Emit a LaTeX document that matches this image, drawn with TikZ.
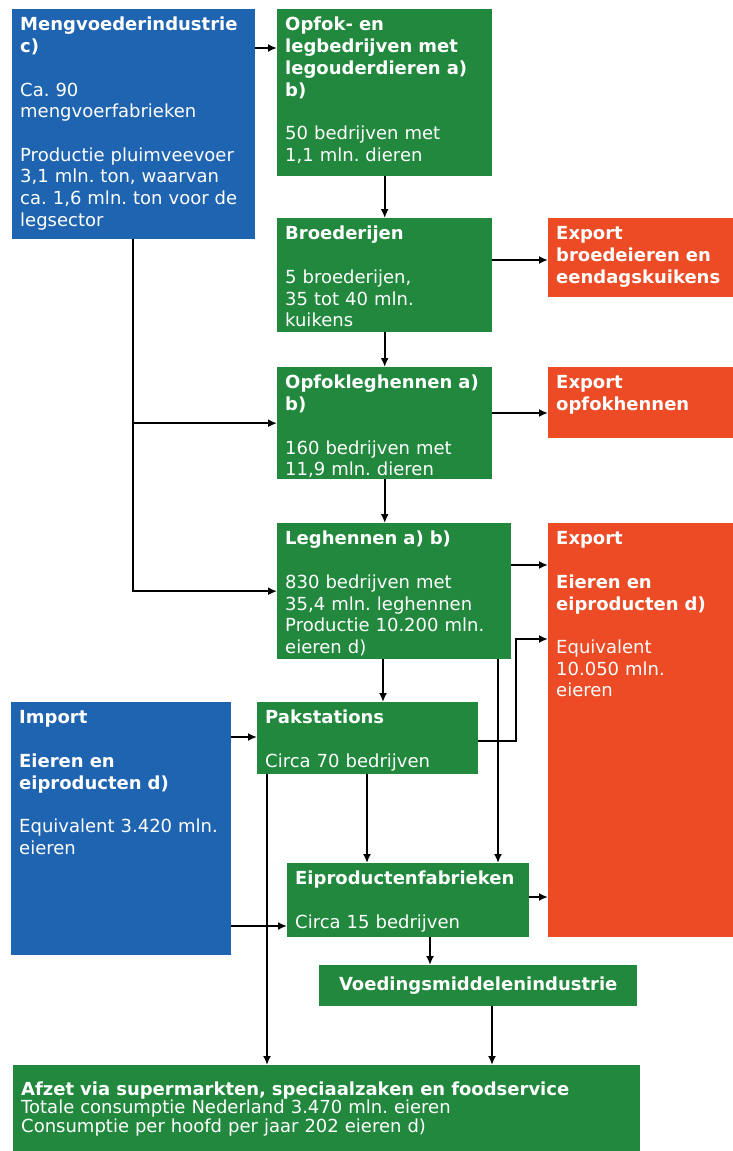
\documentclass[tikz,border=0pt]{standalone}
\usepackage{fontspec}
\setmainfont{DejaVu Sans}
\usepackage{tikz}
\usetikzlibrary{arrows.meta}

\definecolor{mengblue}{HTML}{1F64B1}
\definecolor{ketengreen}{HTML}{21883D}
\definecolor{exportred}{HTML}{EC4B25}

\frenchspacing

\begin{document}
\begin{tikzpicture}[
  x=1pt, y=-1pt,
  >={Latex[length=9pt,width=8pt]},
  flow/.style={->, line width=1.9pt},
  every node/.style={anchor=north west, inner xsep=8pt, inner ysep=8pt, align=left,
    text=white, text height=13.7pt, font=\fontsize{18}{21.7}\selectfont},
  bluebox/.style={fill=mengblue},
  greenbox/.style={fill=ketengreen},
  redbox/.style={fill=exportred, text width=174pt}
]
  \useasboundingbox (0,0) rectangle (732,1151);

  % linker kolom
  \node[bluebox, text width=227pt, text depth=200.3pt] (meng) at (12,9)
    {\bfseries Mengvoederindustrie\\c)\\[21.7pt]\mdseries Ca. 90\\mengvoerfabrieken\\[21.7pt]Productie pluimveevoer\\3,1 mln. ton, waarvan\\ca. 1,6 mln. ton voor de\\legsector};
  \node[bluebox, text width=204pt, text depth=223.3pt] (import) at (11,702)
    {\bfseries Import\\[21.7pt]Eieren en\\eiproducten d)\\[21.7pt]\mdseries Equivalent 3.420 mln.\\eieren};

  % keten
  \node[greenbox, text width=199pt, text depth=137.3pt] (opfok) at (277,9)
    {\bfseries Opfok- en\\legbedrijven met\\legouderdieren a)\\b)\\[21.7pt]\mdseries 50 bedrijven met\\1,1 mln. dieren};
  \node[greenbox, text width=199pt, text depth=84.3pt] (broed) at (277,218)
    {\bfseries Broederijen\\[21.7pt]\mdseries 5 broederijen,\\35 tot 40 mln.\\kuikens};
  \node[greenbox, text width=199pt, text depth=82.3pt] (opfokleg) at (277,367)
    {\bfseries Opfokleghennen a)\\b)\\[21.7pt]\mdseries 160 bedrijven met\\11,9 mln. dieren};
  \node[greenbox, text width=218pt, text depth=106.3pt] (leg) at (277,523)
    {\bfseries Leghennen a) b)\\[21.7pt]\mdseries 830 bedrijven met\\35,4 mln. leghennen\\Productie 10.200 mln.\\eieren d)};
  \node[greenbox, text width=205pt, text depth=42.3pt] (pak) at (257,702)
    {\bfseries Pakstations\\[21.7pt]\mdseries Circa 70 bedrijven};
  \node[greenbox, text width=226pt, text depth=44.3pt] (eipr) at (287,863)
    {\bfseries Eiproductenfabrieken\\[21.7pt]\mdseries Circa 15 bedrijven};
  \node[greenbox, text width=302pt, align=center, inner ysep=11.5pt, text depth=4.3pt] (voed) at (319,965)
    {\bfseries Voedingsmiddelenindustrie};
  \node[greenbox, text width=611pt, inner ysep=16.3pt, text depth=44pt,
    font=\fontsize{18}{18.7}\selectfont] (afzet) at (13,1065)
    {\bfseries Afzet via supermarkten, speciaalzaken en foodservice\\\mdseries Totale consumptie Nederland 3.470 mln. eieren\\Consumptie per hoofd per jaar 202 eieren d)};

  % export
  \node[redbox, text depth=49.3pt] (expbroed) at (548,218)
    {\bfseries Export\\broedeieren en\\eendagskuikens};
  \node[redbox, text depth=41.3pt] (expopfok) at (548,367)
    {\bfseries Export\\opfokhennen};
  \node[redbox, text depth=384.3pt] (expeier) at (548,523)
    {\bfseries Export\\[21.7pt]Eieren en\\eiproducten d)\\[21.7pt]\mdseries Equivalent\\10.050 mln.\\eieren};

  % pijlen
  \draw[flow] ([yshift=-39pt]meng.north east) -- ([yshift=-39pt]opfok.north west);
  \coordinate (trunk) at ([xshift=121pt]meng.south west);
  \draw[flow] (trunk) |- (opfokleg.west);
  \draw[flow] (trunk) |- (leg.west);

  \draw[flow] (opfok) -- (broed);
  \draw[flow] (broed) -- (opfokleg);
  \draw[flow] (opfokleg.south) -- (opfokleg.south |- leg.north);
  \draw[flow] ([yshift=-42pt]broed.north east) -- ([yshift=-42pt]expbroed.north west);
  \draw[flow] ([yshift=-46pt]opfokleg.north east) -- ([yshift=-46pt]expopfok.north west);
  \draw[flow] ([yshift=-42pt]leg.north east) -- ([yshift=-42pt]expeier.north west);

  \coordinate (legpak) at ([xshift=106pt]leg.south west);
  \draw[flow] (legpak) -- (legpak |- pak.north);
  \coordinate (legeipr) at ([xshift=221pt]leg.south west);
  \draw[flow] (legeipr) -- (legeipr |- eipr.north);
  \coordinate (pakexp) at ([yshift=-116pt]expeier.north west);
  \draw[flow] ([yshift=-39pt]pak.north east) -| ([xshift=-32pt]pakexp) -- (pakexp);

  \draw[flow] ([yshift=-35pt]import.north east) -- ([yshift=-35pt]pak.north west);
  \draw[flow] ([yshift=-224pt]import.north east) -- ([yshift=-63pt]eipr.north west);

  \coordinate (pakeipr) at ([xshift=110pt]pak.south west);
  \draw[flow] (pakeipr) -- (pakeipr |- eipr.north);
  \coordinate (pakafzet) at ([xshift=10pt]pak.south west);
  \draw[flow] (pakafzet) -- (pakafzet |- afzet.north);

  \coordinate (eiprexp) at ([yshift=-34pt]eipr.north east);
  \draw[flow] (eiprexp) -- (eiprexp -| expeier.west);
  \coordinate (eiprvoed) at ([xshift=143pt]eipr.south west);
  \draw[flow] (eiprvoed) -- (eiprvoed |- voed.north);
  \coordinate (voedafzet) at ([xshift=173pt]voed.south west);
  \draw[flow] (voedafzet) -- (voedafzet |- afzet.north);
\end{tikzpicture}
\end{document}
